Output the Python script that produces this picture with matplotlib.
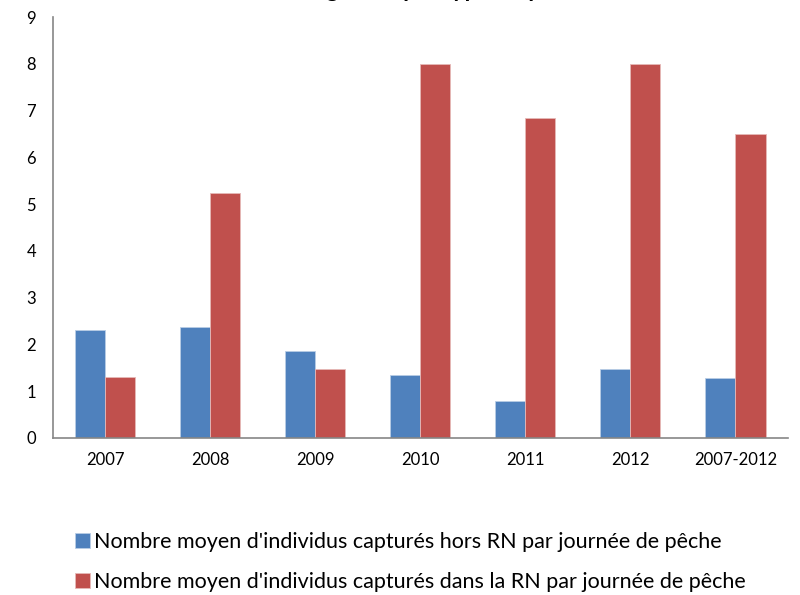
import numpy as np
import matplotlib
matplotlib.use('Agg')
import matplotlib.pyplot as plt

plt.rcParams['font.family'] = ['Lato', 'DejaVu Sans']

# Data
categories = ['2007', '2008', '2009', '2010', '2011', '2012', '2007-2012']
hors_rn = [2.31, 2.38, 1.87, 1.35, 0.79, 1.47, 1.28]
dans_rn = [1.31, 5.24, 1.47, 8.0, 6.85, 8.0, 6.51]
labels = ["Nombre moyen d'individus capturés hors RN par journée de pêche",
          "Nombre moyen d'individus capturés dans la RN par journée de pêche"]
title = "Rendement de la langouste par type de pêche"

fig = plt.figure(figsize=(8, 5.95), dpi=100)
ax = fig.add_axes([0.066, 0.264, 0.919, 0.707])

x = np.arange(len(categories))
w = 0.286
ax.bar(x - w / 2, hors_rn, w, color='#4F81BD', edgecolor='#B9CDE5',
       linewidth=0.6, label=labels[0])
ax.bar(x + w / 2, dans_rn, w, color='#C0504D', edgecolor='#E6B9B8',
       linewidth=0.6, label=labels[1])

ax.set_xlim(-0.5, len(categories) - 0.5)
ax.set_ylim(0, 9)
ax.set_yticks(range(10))
ax.set_xticks(x)
ax.set_xticklabels(categories, fontsize=12)
ax.tick_params(axis='y', length=0, pad=12, labelsize=12)
ax.tick_params(axis='x', length=0, pad=10)

for side in ['top', 'right']:
    ax.spines[side].set_visible(False)
for side in ['left', 'bottom']:
    ax.spines[side].set_color('#868686')
    ax.spines[side].set_linewidth(1.2)

# Title mostly clipped by the top edge, as in the original
fig.text(0.44, 1.005, title, ha='center', va='baseline', fontsize=17,
         fontweight='bold')

fig.legend(loc='upper left', bbox_to_anchor=(0.08, 0.124), frameon=False,
           fontsize=15.5, handlelength=0.7, handleheight=0.7,
           handletextpad=0.2, labelspacing=0.92, borderpad=0)

fig.savefig('out.png', dpi=100)
